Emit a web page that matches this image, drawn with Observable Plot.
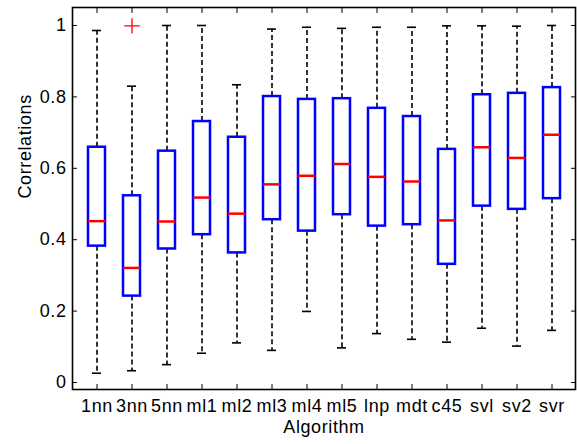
<!DOCTYPE html>
<html><head><meta charset="utf-8">
<script src="https://cdn.jsdelivr.net/npm/d3@7"></script>
<script src="https://cdn.jsdelivr.net/npm/@observablehq/plot@0.6"></script>
<style>body{margin:0;background:#fff}</style>
</head><body><div id="chart"></div>
<script>
const algorithms  = ["1nn","3nn","5nn","ml1","ml2","ml3","ml4","ml5","lnp","mdt","c45","svl","sv2","svr"];
const whiskerLow  = [0.026,0.033,0.050,0.082,0.111,0.090,0.199,0.097,0.137,0.121,0.113,0.152,0.102,0.146];
const q1          = [0.382,0.242,0.374,0.414,0.363,0.456,0.424,0.470,0.438,0.442,0.331,0.494,0.485,0.515];
const median      = [0.452,0.321,0.451,0.518,0.473,0.555,0.579,0.612,0.576,0.563,0.454,0.659,0.629,0.694];
const q3          = [0.659,0.523,0.648,0.731,0.687,0.801,0.793,0.795,0.768,0.745,0.653,0.806,0.810,0.826];
const whiskerHigh = [0.986,0.830,1.000,1.000,0.834,0.990,0.995,0.992,0.995,0.995,0.999,0.999,0.998,1.000];
const outlierAlgorithm = ["3nn"];
const outlierValue     = [0.999];
const yTicks      = [0, 0.2, 0.4, 0.6, 0.8, 1];
const yTickLabels = ["0","0.2","0.4","0.6","0.8","1"];

const boxes = algorithms.map((a, i) => ({algorithm: a, lo: whiskerLow[i], q1: q1[i], med: median[i], q3: q3[i], hi: whiskerHigh[i]}));
const outliers = outlierAlgorithm.map((a, i) => ({algorithm: a, value: outlierValue[i]}));

const font = "'Liberation Sans', Arial, sans-serif";
const fs = 18;
const plot = Plot.plot({
  width: 577, height: 444,
  marginLeft: 72, marginRight: 2, marginTop: 7, marginBottom: 55,
  style: {fontFamily: font, fontSize: fs + "px", letterSpacing: "0.6px", background: "white", color: "black"},
  x: {type: "band", domain: algorithms, padding: 0},
  y: {domain: [-0.0196, 1.0504]},
  marks: [
    Plot.ruleX(boxes, {x: "algorithm", y1: "q3", y2: "hi", stroke: "black", strokeWidth: 1.6, strokeDasharray: "5,3"}),
    Plot.ruleX(boxes, {x: "algorithm", y1: "q1", y2: "lo", stroke: "black", strokeWidth: 1.6, strokeDasharray: "5,3"}),
    Plot.tickY(boxes, {x: "algorithm", y: "hi", stroke: "black", strokeWidth: 1.6, inset: 13}),
    Plot.tickY(boxes, {x: "algorithm", y: "lo", stroke: "black", strokeWidth: 1.6, inset: 13}),
    Plot.barY(boxes, {x: "algorithm", y1: "q1", y2: "q3", fill: "white", stroke: "blue", strokeWidth: 2.5, insetLeft: 9, insetRight: 9}),
    Plot.tickY(boxes, {x: "algorithm", y: "med", stroke: "red", strokeWidth: 2.5, inset: 9}),
    Plot.dot(outliers, {x: "algorithm", y: "value", symbol: "plus", stroke: "red", r: 5, strokeWidth: 1.3}),
    Plot.frame({stroke: "black", strokeWidth: 1.6}),
    Plot.axisY(yTicks, {anchor: "left", tickSize: 5, dx: 5, tickFormat: () => "", label: null}),
    Plot.axisY(yTicks, {anchor: "right", tickSize: 5, dx: -5, tickFormat: () => "", label: null}),
    Plot.axisY(yTicks, {anchor: "left", tickSize: 0, tickPadding: 6, fontSize: fs, tickFormat: d => yTickLabels[yTicks.indexOf(d)], label: null}),
    Plot.axisX({anchor: "bottom", tickSize: 5, dy: -5, tickFormat: () => "", label: null}),
    Plot.axisX({anchor: "top", tickSize: 5, dy: 5, tickFormat: () => "", label: null}),
    Plot.axisX({anchor: "bottom", tickSize: 0, tickPadding: 10, fontSize: fs, label: null}),
    Plot.text(["Correlations"], {frameAnchor: "left", dx: -47, rotate: -90, fontSize: fs}),
    Plot.text(["Algorithm"], {frameAnchor: "bottom", dy: 43, fontSize: fs})
  ]
});
document.getElementById("chart").appendChild(plot);
</script>
</body></html>
